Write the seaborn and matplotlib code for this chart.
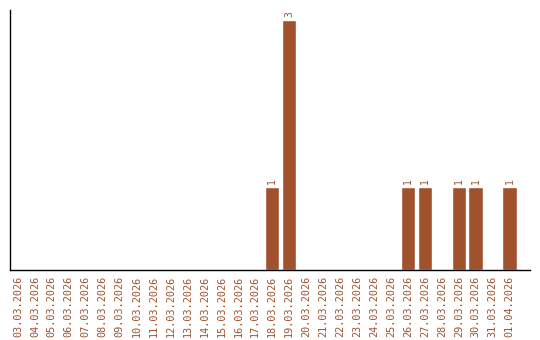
import matplotlib
matplotlib.use("Agg")
import matplotlib.pyplot as plt
import seaborn as sns
import pandas as pd

dates = ["03.03.2026", "04.03.2026", "05.03.2026", "06.03.2026", "07.03.2026",
         "08.03.2026", "09.03.2026", "10.03.2026", "11.03.2026", "12.03.2026",
         "13.03.2026", "14.03.2026", "15.03.2026", "16.03.2026", "17.03.2026",
         "18.03.2026", "19.03.2026", "20.03.2026", "21.03.2026", "22.03.2026",
         "23.03.2026", "24.03.2026", "25.03.2026", "26.03.2026", "27.03.2026",
         "28.03.2026", "29.03.2026", "30.03.2026", "31.03.2026", "01.04.2026"]
counts = [0, 0, 0, 0, 0, 0, 0, 0, 0, 0,
          0, 0, 0, 0, 0, 1, 3, 0, 0, 0,
          0, 0, 0, 1, 1, 0, 1, 1, 0, 1]

COLOR = "#A0522D"
df = pd.DataFrame({"date": dates, "count": counts})

sns.set_style("white")
plt.rcParams["font.family"] = ["DejaVu Sans Mono"]

fig = plt.figure(figsize=(5.4, 3.4), dpi=100)
ax = fig.add_axes([0.0194, 0.206, 0.9620, 0.765])
sns.barplot(data=df, x="date", y="count", color=COLOR, width=0.85,
            saturation=1, ax=ax, order=dates)

for i, v in enumerate(counts):
    if v > 0:
        ax.text(i, v + 0.03, str(v), rotation=90, ha="center", va="bottom",
                color=COLOR, fontsize=7)

ax.set_xlim(-0.44, 30.2)
ax.set_ylim(0, 3.12)
ax.set_xlabel("")
ax.set_ylabel("")
ax.set_yticks([])
ax.tick_params(axis="x", length=0, pad=4, labelsize=7.3, labelcolor=COLOR)
for lab in ax.get_xticklabels():
    lab.set_rotation(90)
for s in ["top", "right"]:
    ax.spines[s].set_visible(False)
for s in ["left", "bottom"]:
    ax.spines[s].set_color("black")
    ax.spines[s].set_linewidth(1.0)

fig.savefig("out.png", dpi=100)
